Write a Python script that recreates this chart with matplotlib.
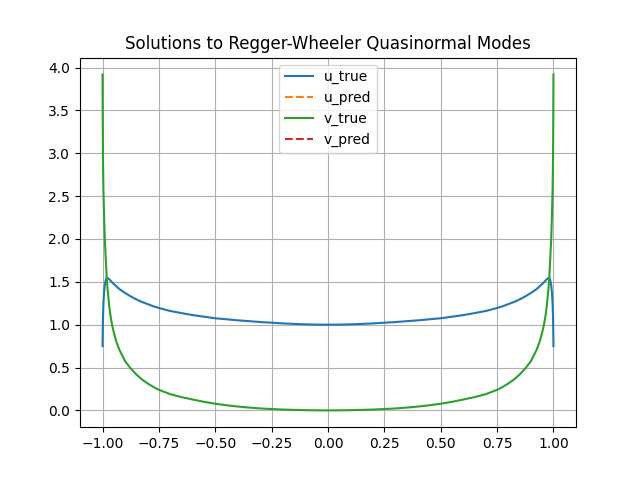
import matplotlib
matplotlib.use("Agg")
import matplotlib.pyplot as plt

x_vals = [-1.0, -0.999, -0.998, -0.996, -0.993, -0.99, -0.986, -0.982, -0.978, -0.97,
          -0.965, -0.96, -0.955, -0.95, -0.94, -0.925, -0.9, -0.875, -0.85, -0.825,
          -0.8, -0.775, -0.75, -0.7, -0.65, -0.6, -0.55, -0.5, -0.45, -0.4,
          -0.35, -0.3, -0.25, -0.2, -0.15, -0.1, -0.05, 0.0,
          0.05, 0.1, 0.15, 0.2, 0.25, 0.3, 0.35, 0.4, 0.45, 0.5,
          0.55, 0.6, 0.65, 0.7, 0.75, 0.775, 0.8, 0.825, 0.85, 0.875,
          0.9, 0.925, 0.94, 0.95, 0.955, 0.96, 0.965, 0.97, 0.978, 0.982,
          0.986, 0.99, 0.993, 0.996, 0.998, 0.999, 1.0]

u_true = [0.75, 0.95, 1.10, 1.26, 1.38, 1.46, 1.52, 1.548, 1.545, 1.53,
          1.515, 1.50, 1.488, 1.475, 1.45, 1.415, 1.37, 1.33, 1.295, 1.265,
          1.24, 1.215, 1.195, 1.16, 1.135, 1.112, 1.093, 1.075, 1.063, 1.051,
          1.041, 1.031, 1.023, 1.015, 1.009, 1.004, 1.001, 1.0,
          1.001, 1.004, 1.009, 1.015, 1.023, 1.031, 1.041, 1.051, 1.063, 1.075,
          1.093, 1.112, 1.135, 1.16, 1.195, 1.215, 1.24, 1.265, 1.295, 1.33,
          1.37, 1.415, 1.45, 1.475, 1.488, 1.50, 1.515, 1.53, 1.545, 1.548,
          1.52, 1.46, 1.38, 1.26, 1.10, 0.95, 0.75]

v_true = [3.92, 3.3, 2.9, 2.55, 2.25, 2.0, 1.78, 1.57, 1.42, 1.21,
          1.11, 1.03, 0.965, 0.91, 0.81, 0.705, 0.574, 0.489, 0.419, 0.361,
          0.314, 0.274, 0.24, 0.19, 0.155, 0.127, 0.10, 0.078, 0.06, 0.045,
          0.033, 0.023, 0.016, 0.010, 0.006, 0.003, 0.001, 0.0,
          0.001, 0.003, 0.006, 0.010, 0.016, 0.023, 0.033, 0.045, 0.06, 0.078,
          0.10, 0.127, 0.155, 0.19, 0.24, 0.274, 0.314, 0.361, 0.419, 0.489,
          0.574, 0.705, 0.81, 0.91, 0.965, 1.03, 1.11, 1.21, 1.42, 1.57,
          1.78, 2.0, 2.25, 2.55, 2.9, 3.3, 3.92]

u_pred = []
v_pred = []

fig, ax = plt.subplots(figsize=(6.4, 4.8), dpi=100)
ax.plot(x_vals, u_true, color="#1f77b4", label="u_true")
ax.plot([], u_pred, color="#ff7f0e", linestyle="--", label="u_pred")
ax.plot(x_vals, v_true, color="#2ca02c", label="v_true")
ax.plot([], v_pred, color="#d62728", linestyle="--", label="v_pred")
ax.set_title("Solutions to Regger-Wheeler Quasinormal Modes")
ax.grid(True)
ax.legend(loc="upper center")
fig.savefig("out.png")
